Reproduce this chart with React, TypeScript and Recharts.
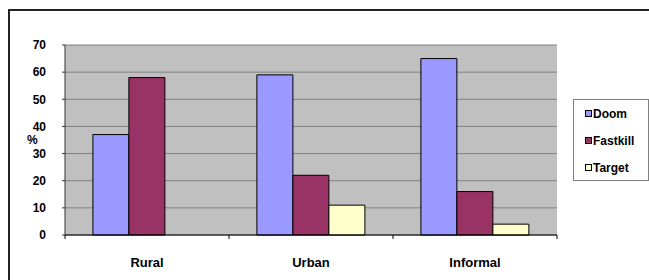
import {
  BarChart,
  Bar,
  XAxis,
  YAxis,
  CartesianGrid,
  Legend,
  Label,
} from "recharts";

// 지역별 비교 막대 차트 (Doom / Fastkill / Target)

const categories = ["Rural", "Urban", "Informal"];
const doom = [37, 59, 65];
const fastkill = [58, 22, 16];
const target: (number | null)[] = [null, 11, 4];
const yTicks = [0, 10, 20, 30, 40, 50, 60, 70];

const series = [
  { key: "Doom", values: doom, color: "#9999FF" },
  { key: "Fastkill", values: fastkill, color: "#993366" },
  { key: "Target", values: target, color: "#FFFFCC" },
];

const data = categories.map((name, i) => ({
  name,
  Doom: doom[i],
  Fastkill: fastkill[i],
  Target: target[i],
}));

const FONT = "'Liberation Sans', Arial, sans-serif";
const PLOT_W = 492;
const BAND = PLOT_W / categories.length;

function CategoryTick(props: any) {
  const { x, y, payload, index } = props;
  const left = x - BAND / 2;
  return (
    <g>
      <line x1={left} y1={y} x2={left} y2={y + 4} stroke="#000" />
      {index === categories.length - 1 && (
        <line x1={x + BAND / 2} y1={y} x2={x + BAND / 2} y2={y + 4} stroke="#000" />
      )}
      <text
        x={x}
        y={y + 32}
        textAnchor="middle"
        fontFamily={FONT}
        fontWeight="bold"
        fontSize={13}
        fill="#000"
      >
        {payload.value}
      </text>
    </g>
  );
}

function LegendBox() {
  return (
    <div
      style={{
        width: 76,
        height: 82,
        boxSizing: "border-box",
        border: "1px solid #808080",
        background: "#fff",
        padding: "0 0 0 11px",
        fontFamily: FONT,
        fontWeight: "bold",
        fontSize: 12,
        color: "#000",
      }}
    >
      {series.map((s) => (
        <div
          key={s.key}
          style={{ display: "flex", alignItems: "center", height: 27 }}
        >
          <span
            style={{
              display: "inline-block",
              width: 5,
              height: 5,
              background: s.color,
              border: "1px solid #000",
              marginRight: 1,
            }}
          />
          {s.key}
        </div>
      ))}
    </div>
  );
}

export default function App() {
  return (
    <div style={{ position: "absolute", left: 0, top: 0, width: 649, height: 280 }}>
      <div
        style={{
          position: "absolute",
          left: 8,
          top: 9,
          width: 641,
          height: 271,
          borderLeft: "2px solid #222",
          borderTop: "2px solid #222",
        }}
      />
      <BarChart
        width={649}
        height={280}
        data={data}
        margin={{ top: 45, right: 16, bottom: 0, left: 0 }}
        barCategoryGap="17%"
        barGap={0}
      >
        <CartesianGrid
          vertical={false}
          stroke="#808080"
          fill="#C0C0C0"
          fillOpacity={1}
        />
        <XAxis
          dataKey="name"
          height={45}
          tickSize={0}
          tickMargin={0}
          tickLine={false}
          axisLine={{ stroke: "#000" }}
          tick={<CategoryTick />}
          interval={0}
        />
        <YAxis
          width={65}
          domain={[0, 70]}
          ticks={yTicks}
          interval={0}
          tickSize={3}
          tickMargin={16}
          axisLine={{ stroke: "#333" }}
          tickLine={{ stroke: "#333" }}
          tick={{ fontFamily: FONT, fontWeight: "bold", fontSize: 12, fill: "#000" }}
        >
          <Label
            value="%"
            position="insideLeft"
            offset={27}
            style={{ fontFamily: FONT, fontWeight: "bold", fontSize: 12, fill: "#000" }}
          />
        </YAxis>
        <YAxis
          yAxisId="edge"
          orientation="right"
          width={0}
          domain={[0, 70]}
          tick={false}
          tickLine={false}
          axisLine={{ stroke: "#808080" }}
        />
        <Legend
          layout="vertical"
          align="right"
          verticalAlign="middle"
          wrapperStyle={{ right: 0, top: 99 }}
          content={<LegendBox />}
        />
        {series.map((s) => (
          <Bar
            key={s.key}
            dataKey={s.key}
            fill={s.color}
            stroke="#000"
            strokeWidth={1}
            isAnimationActive={false}
          />
        ))}
      </BarChart>
    </div>
  );
}
